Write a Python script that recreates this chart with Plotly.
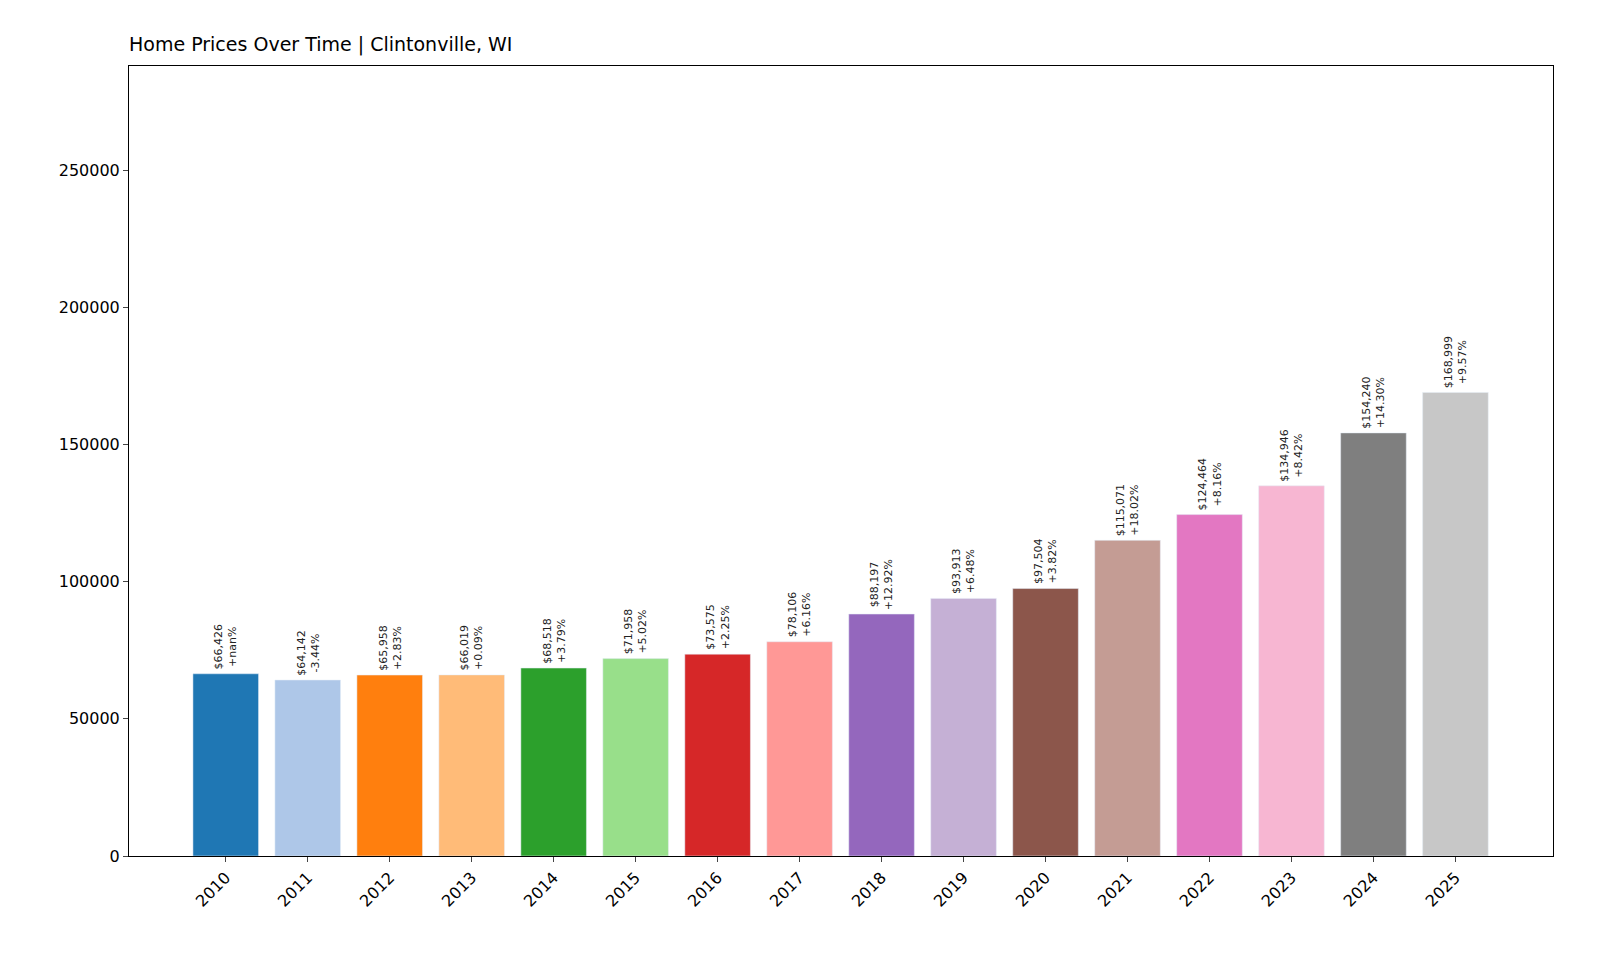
import plotly.graph_objects as go

years = [str(y) for y in range(2010, 2026)]
prices = [66426, 64142, 65958, 66019, 68518, 71958, 73575, 78106, 88197, 93913, 97504, 115071, 124464, 134946, 154240, 168999]
changes = ["+nan%", "-3.44%", "+2.83%", "+0.09%", "+3.79%", "+5.02%", "+2.25%", "+6.16%", "+12.92%", "+6.48%", "+3.82%", "+18.02%", "+8.16%", "+8.42%", "+14.30%", "+9.57%"]
colors = ["#1f77b4", "#aec7e8", "#ff7f0e", "#ffbb78", "#2ca02c", "#98df8a", "#d62728", "#ff9896",
          "#9467bd", "#c5b0d5", "#8c564b", "#c49c94", "#e377c2", "#f7b6d2", "#7f7f7f", "#c7c7c7"]

fig = go.Figure(go.Bar(x=years, y=prices, marker_color=colors, width=0.8))
for i, (p, c) in enumerate(zip(prices, changes)):
    fig.add_annotation(x=i, y=p, xref="x", yref="y", text=f"${p:,}<br>{c}", textangle=-90,
                       showarrow=False, yanchor="bottom", yshift=2,
                       font=dict(size=11, color="#222"))
fig.update_layout(
    width=1600, height=960, plot_bgcolor="white", paper_bgcolor="white",
    margin=dict(l=121, r=55, t=58, b=112),
    font=dict(family="DejaVu Sans", color="black"),
    title=dict(text="Home Prices Over Time | Clintonville, WI", x=121/1600, xanchor="left",
               y=1-36/960, yanchor="middle", font=dict(size=19)),
    showlegend=False,
)
fig.update_xaxes(type="category", range=[-1.18, 16.19], tickangle=-45, showline=True, mirror=True,
                 linecolor="black", ticks="outside", tickfont=dict(size=16))
fig.update_yaxes(range=[0, 288000], tickvals=[0, 50000, 100000, 150000, 200000, 250000],
                 tickformat="d", showgrid=False, zeroline=False, showline=True, mirror=True,
                 linecolor="black", ticks="outside", tickfont=dict(size=16))
fig.write_html("out.html")
